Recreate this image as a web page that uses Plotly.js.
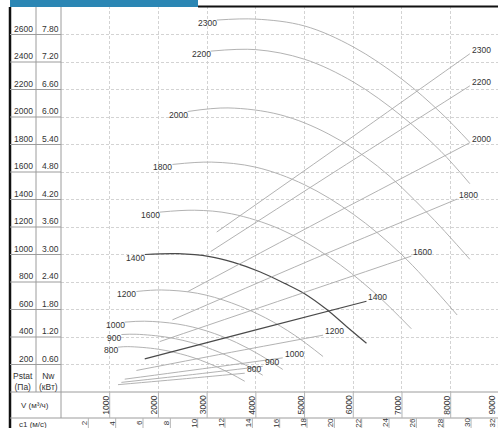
<!DOCTYPE html>
<html><head><meta charset="utf-8">
<script src="https://cdn.plot.ly/plotly-3.0.1.min.js"></script>
<style>html,body{margin:0;padding:0;background:#fff;overflow:hidden}#chart{width:498px;height:428px}</style>
</head><body><div id="chart"></div>
<script>
// ---------- data ----------
const speeds = [800, 900, 1000, 1200, 1400, 1600, 1800, 2000, 2200, 2300];
// static pressure curves: V (m3/h) -> Pstat (Pa)
const pV_800  = [1170, 1371, 2000, 2600, 3100, 3500, 3772];
const pP_800  = [326, 330, 311, 263, 198, 131, 78];
const pV_900  = [1240, 1543, 2200, 2800, 3400, 3800, 4141];
const pP_900  = [418, 420, 397, 347, 266, 194, 122];
const pV_1000 = [1308, 1714, 2400, 3000, 3600, 4100, 4552];
const pP_1000 = [508, 515, 494, 443, 360, 266, 164];
const pV_1200 = [1548, 2057, 2800, 3500, 4200, 4800, 5380];
const pP_1200 = [731, 742, 718, 648, 539, 412, 258];
const pV_1400 = [1719, 2400, 3053, 3526, 4080, 4593, 5000, 5456, 5867, 6271];
const pP_1400 = [1000, 1006, 985, 945, 875, 790, 715, 600, 475, 355];
const pV_1600 = [2026, 2743, 3500, 4500, 5500, 6400, 7192];
const pP_1600 = [1308, 1322, 1296, 1184, 983, 733, 460];
const pV_1800 = [2287, 3086, 4000, 5000, 6000, 7000, 8133];
const pP_1800 = [1655, 1672, 1635, 1507, 1293, 997, 560];
const pV_2000 = [2601, 3429, 4500, 5500, 6500, 7500, 8393];
const pP_2000 = [2040, 2066, 2016, 1875, 1642, 1310, 965];
const pV_2200 = [3073, 4000, 5000, 6000, 7000, 7800, 8393];
const pP_2200 = [2479, 2490, 2420, 2255, 2005, 1750, 1515];
const pV_2300 = [3197, 4000, 5000, 6000, 7000, 7800, 8393];
const pP_2300 = [2705, 2712, 2662, 2510, 2275, 2030, 1815];
// power curves: V (m3/h) -> Nw (kW)
const nV_800  = [1170, 2500, 3772];  const nN_800  = [0.16, 0.285, 0.41];
const nV_900  = [1240, 2700, 4141];  const nN_900  = [0.21, 0.38, 0.56];
const nV_1000 = [1308, 3000, 4552];  const nN_1000 = [0.28, 0.52, 0.745];
const nV_1200 = [1548, 3500, 5380];  const nN_1200 = [0.47, 0.868, 1.24];
const nV_1400 = [1719, 4000, 6271];  const nN_1400 = [0.724, 1.356, 1.98];
const nV_1600 = [2026, 4600, 7192];  const nN_1600 = [1.10, 2.03, 2.965];
const nV_1800 = [2287, 5200, 8133];  const nN_1800 = [1.574, 2.91, 4.21];
const nV_2000 = [2601, 5500, 8393];  const nN_2000 = [2.19, 3.83, 5.44];
const nV_2200 = [3073, 5700, 8393];  const nN_2200 = [3.065, 4.86, 6.68];
const nV_2300 = [3197, 5800, 8393];  const nN_2300 = [3.49, 5.43, 7.38];
// scale labels
const pstatTicks = [200, 400, 600, 800, 1000, 1200, 1400, 1600, 1800, 2000, 2200, 2400, 2600];
const nwTicks = ['0.60','1.20','1.80','2.40','3.00','3.60','4.20','4.80','5.40','6.00','6.60','7.20','7.80'];
const vTicks = [1000, 2000, 3000, 4000, 5000, 6000, 7000, 8000, 9000];
const c1Ticks = [2, 4, 6, 8, 10, 12, 14, 16, 18, 20, 22, 24, 26, 28, 30, 32];
const vPerC1 = 280.6; // m3/h per 1 m/s of outlet velocity

const pres = {800:[pV_800,pP_800],900:[pV_900,pP_900],1000:[pV_1000,pP_1000],1200:[pV_1200,pP_1200],
  1400:[pV_1400,pP_1400],1600:[pV_1600,pP_1600],1800:[pV_1800,pP_1800],2000:[pV_2000,pP_2000],
  2200:[pV_2200,pP_2200],2300:[pV_2300,pP_2300]};
const pow = {800:[nV_800,nN_800],900:[nV_900,nN_900],1000:[nV_1000,nN_1000],1200:[nV_1200,nN_1200],
  1400:[nV_1400,nN_1400],1600:[nV_1600,nN_1600],1800:[nV_1800,nN_1800],2000:[nV_2000,nN_2000],
  2200:[nV_2200,nN_2200],2300:[nV_2300,nN_2300]};

// ---------- geometry ----------
const L = 61, T = 6, W = 437, H = 386;
const XMAX = 8971, YMAX = 2807.3, NW_PER_PA = 0.003;
const PX = px => (px - L) / W;
const PY = py => (T + H - py) / H;
const FONT = 'Liberation Sans, Arial, sans-serif';
const TXT = '#333';
const LIGHT = '#a9a9a9', DARK = '#4a4a4a';

const traces = [];
const ann = [];
speeds.forEach(s => {
  const hi = s === 1400;
  const [pv, pp] = pres[s];
  const [nv, nn] = pow[s];
  traces.push({x: pv, y: pp, mode: 'lines', line: {color: hi ? DARK : LIGHT, width: hi ? 1.2 : 0.9, shape: 'spline', smoothing: 1}, hoverinfo: 'skip'});
  traces.push({x: nv, y: nn, yaxis: 'y2', mode: 'lines', line: {color: hi ? DARK : LIGHT, width: hi ? 1.2 : 0.9, shape: 'spline', smoothing: 0.6}, hoverinfo: 'skip'});
  ann.push({xref: 'x', yref: 'y', x: pv[0], y: pp[0], text: String(s), showarrow: false, xanchor: 'right', yanchor: 'middle', xshift: 2, yshift: -3, font: {family: FONT, size: 8.5, color: TXT}});
  ann.push({xref: 'x', yref: 'y2', x: nv[nv.length-1], y: nn[nn.length-1], text: String(s), showarrow: false, xanchor: 'left', yanchor: 'middle', xshift: 0, yshift: 4, font: {family: FONT, size: 8.5, color: TXT}});
});

const shapes = [];
const SEP = '#9c9c9c';
const line = (x0,y0,x1,y1,color,width) => ({type:'line',xref:'paper',yref:'paper',x0,y0,x1,y1,line:{color,width}});
// header bar and borders
shapes.push({type:'rect',xref:'paper',yref:'paper',x0:PX(10),x1:PX(198),y0:PY(7),y1:PY(0),fillcolor:'#2b86b4',line:{width:0}});
shapes.push(line(PX(198),PY(6.5),PX(498),PY(6.5),'#111',2));
shapes.push(line(PX(10),PY(7),PX(10),PY(428),'#111',2.5));
shapes.push(line(PX(36),PY(7),PX(36),PY(392),SEP,1));
shapes.push(line(PX(61),PY(7),PX(61),PY(418),SEP,1));
shapes.push(line(PX(10),PY(392),PX(498),PY(392),SEP,1));
shapes.push(line(PX(10),PY(418),PX(498),PY(418),SEP,1));
pstatTicks.forEach(p => {
  shapes.push({type:'line',xref:'paper',yref:'y',x0:PX(10),x1:PX(61),y0:p,y1:p,line:{color:SEP,width:1}});
});
vTicks.forEach(v => {
  shapes.push(line(v/XMAX,PY(392),v/XMAX,PY(418),'#b5b5b5',1));
});
c1Ticks.forEach(c => {
  shapes.push(line(c*vPerC1/XMAX,PY(418),c*vPerC1/XMAX,PY(428),'#b5b5b5',1));
});

// table texts
pstatTicks.forEach((p,i) => {
  ann.push({xref:'paper',yref:'y',x:PX(34.5),y:p,text:String(p),showarrow:false,xanchor:'right',yanchor:'bottom',yshift:-1,font:{family:FONT,size:8.5,color:TXT}});
  ann.push({xref:'paper',yref:'y',x:PX(61),y:p,text:nwTicks[i],showarrow:false,xanchor:'right',yanchor:'bottom',yshift:-1,font:{family:FONT,size:8.5,color:TXT}});
});
ann.push({xref:'paper',yref:'paper',x:PX(23),y:PY(381),text:'Pstat<br>(Па)',showarrow:false,xanchor:'center',yanchor:'middle',font:{family:FONT,size:8.5,color:TXT}});
ann.push({xref:'paper',yref:'paper',x:PX(48.5),y:PY(381),text:'Nw<br>(кВт)',showarrow:false,xanchor:'center',yanchor:'middle',font:{family:FONT,size:8.5,color:TXT}});
ann.push({xref:'paper',yref:'paper',x:PX(35),y:PY(406),text:'V (м³/ч)',showarrow:false,xanchor:'center',yanchor:'middle',font:{family:FONT,size:8,color:TXT}});
ann.push({xref:'paper',yref:'paper',x:PX(33),y:PY(424),text:'c1 (м/с)',showarrow:false,xanchor:'center',yanchor:'middle',font:{family:FONT,size:8,color:TXT}});
vTicks.forEach(v => {
  const last = v === 9000;
  ann.push({xref:'paper',yref:'paper',x:v/XMAX,y:PY(405),text:String(v),textangle:-90,showarrow:false,xanchor:'center',yanchor:'middle',xshift:last ? -7 : -4,font:{family:FONT,size:8.5,color:TXT}});
});
c1Ticks.forEach(c => {
  const last = c === 32;
  ann.push({xref:'paper',yref:'paper',x:c*vPerC1/XMAX,y:PY(423),text:String(c),textangle:-90,showarrow:false,xanchor:'center',yanchor:'middle',xshift:last ? -6 : -4,font:{family:FONT,size:8,color:TXT}});
});

const axGrid = {showgrid:true,gridcolor:'#d3d3d3',griddash:'3px,2px',gridwidth:1,zeroline:false,showticklabels:false,ticks:'',showline:false,fixedrange:true};
const layout = {
  width: 498, height: 428,
  margin: {l: L, r: 0, t: T, b: 428 - T - H, pad: 0},
  paper_bgcolor: '#fff', plot_bgcolor: '#fff',
  showlegend: false,
  xaxis: Object.assign({range:[0,XMAX],dtick:1000,tick0:0}, axGrid),
  yaxis: Object.assign({range:[0,YMAX],dtick:200,tick0:0}, axGrid),
  yaxis2: {overlaying:'y',range:[0,YMAX*NW_PER_PA],visible:false,showgrid:false,zeroline:false,fixedrange:true},
  shapes: shapes,
  annotations: ann
};
Plotly.newPlot('chart', traces, layout, {displayModeBar:false, staticPlot:true});
</script>
</body></html>
